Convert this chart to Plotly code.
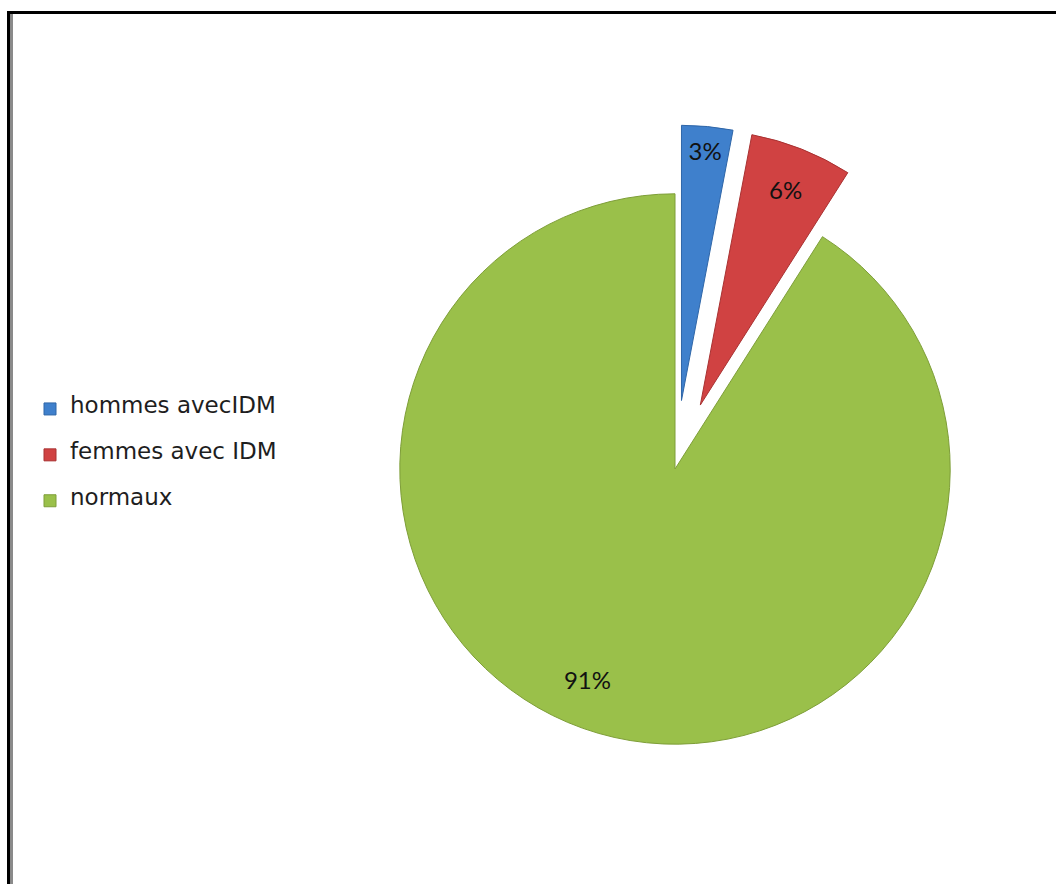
import plotly.graph_objects as go

labels = ["hommes avecIDM", "femmes avec IDM", "normaux"]
values = [3, 6, 91]
pulls = [0.25, 0.25, 0]
colors = ["#3F80CC", "#D04242", "#9AC04A"]
edge_colors = ["#2F66A8", "#A83232", "#7E9E38"]

W, H = 1056, 884
NB = "\u00a0"

# legend labels: a blank line above and below keeps the rows spaced like the original
legend_labels = [
    "<br><span style='font-size:23px'>" + lab + "</span><br>" for lab in labels
]

# the big slice's label sits lower-left in the original; padding lines/spaces move it there
text_templates = [
    "%{percent:.0%}",
    "%{percent:.0%}",
    (NB + "<br>") * 5 + "%{percent:.0%}" + NB * 16,
]

fig = go.Figure(
    go.Pie(
        labels=legend_labels,
        values=values,
        pull=pulls,
        sort=False,
        direction="clockwise",
        rotation=0,
        marker=dict(colors=colors, line=dict(color=edge_colors, width=1)),
        texttemplate=text_templates,
        textposition="inside",
        insidetextorientation="horizontal",
        textfont=dict(family="Lato", size=24, color="#111111"),
        domain=dict(x=[331 / W, 1019 / W], y=[1 - 813 / H, 1 - 125 / H]),
        hoverinfo="percent",
    )
)

fig.update_layout(
    width=W,
    height=H,
    margin=dict(l=0, r=0, t=0, b=0),
    paper_bgcolor="white",
    plot_bgcolor="white",
    showlegend=True,
    legend=dict(
        x=30 / W,
        xanchor="left",
        y=1 - 455 / H,
        yanchor="middle",
        font=dict(family="DejaVu Sans", size=11, color="#1e1e1e"),
        bgcolor="rgba(0,0,0,0)",
    ),
    shapes=[
        dict(
            type="rect", xref="paper", yref="paper",
            x0=8.5 / W, x1=1.02, y0=-0.02, y1=1 - 12.5 / H,
            line=dict(color="black", width=3),
        ),
        dict(
            type="line", xref="paper", yref="paper",
            x0=11.5 / W, x1=11.5 / W, y0=-0.02, y1=1 - 14 / H,
            line=dict(color="#8a8a8a", width=3),
        ),
    ],
)

fig.write_html("out.html")
